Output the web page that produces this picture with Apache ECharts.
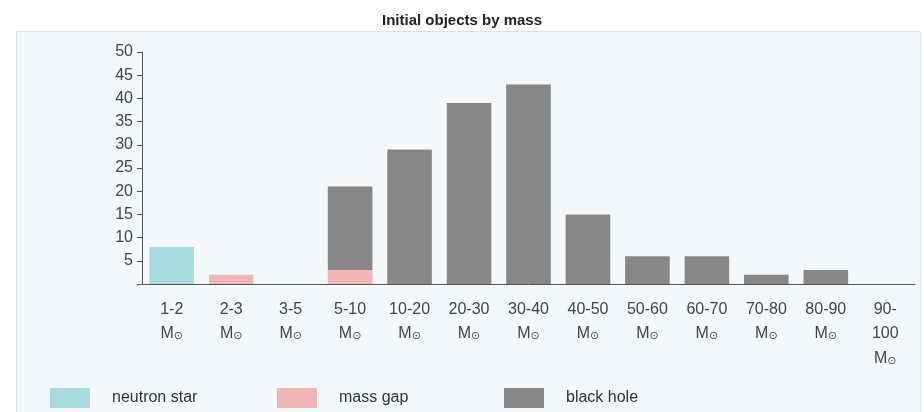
<!DOCTYPE html>
<html>
<head>
<meta charset="utf-8">
<script src="https://cdn.jsdelivr.net/npm/echarts@6/dist/echarts.min.js"></script>
<style>html,body{margin:0;padding:0;background:#fff;}#c{width:924px;height:412px;}</style>
</head>
<body>
<div id="c"></div>
<script>
const categories = ['1-2','2-3','3-5','5-10','10-20','20-30','30-40','40-50','50-60','60-70','70-80','80-90','90-100'];
const neutronStar = [8,0,0,0,0,0,0,0,0,0,0,0,0];
const massGap = [0,2,0,3,0,0,0,0,0,0,0,0,0];
const blackHole = [0,0,0,18,29,39,43,15,6,6,2,3,0];
const seriesNames = ['neutron star','mass gap','black hole'];
const colors = ['#a9dadd','#f2b5b5','#878787'];
const yTicks = {min:0, max:50, interval:5};

const chart = echarts.init(document.getElementById('c'), null, {renderer:'canvas'});
const font = 'Liberation Sans, Arial, sans-serif';
const mkSeries = (name, data, color) => ({
  name, type:'bar', stack:'total', data, barWidth:'75%',
  itemStyle:{color}, emphasis:{disabled:true}
});
const mkLegend = (name, left) => ({
  data:[name], left, top:388, orient:'horizontal', padding:0,
  itemWidth:40, itemHeight:20, icon:'rect',
  textStyle:{fontFamily:font, fontSize:16, color:'#333', padding:[0,0,0,17]}
});
chart.setOption({
  animation:false,
  backgroundColor:'#ffffff',
  title:{text:'Initial objects by mass', left:'center', top:8,
    textStyle:{fontFamily:font, fontSize:15, fontWeight:'bold', color:'#222'}},
  graphic:[{type:'rect', z:-10, silent:true,
    shape:{x:16.5, y:31.5, width:904, height:400},
    style:{fill:'#f4f8fb', stroke:'#dbe1e6', lineWidth:1}}],
  grid:{left:142, right:9, top:52, bottom:128, containLabel:false},
  legend:[mkLegend(seriesNames[0],50), mkLegend(seriesNames[1],277), mkLegend(seriesNames[2],504)],
  xAxis:{type:'category', data:categories,
    axisLine:{lineStyle:{color:'#555', width:1}},
    axisTick:{alignWithLabel:true, length:8, lineStyle:{color:'#555'}},
    axisLabel:{interval:0, margin:13, fontFamily:font, fontSize:16, color:'#444', lineHeight:24.5,
      formatter: v => (v.length>5 ? v.replace('-', '-\n') : v) + '\n{m|M}{s|⊙}',
      rich:{m:{fontFamily:font, fontSize:16, color:'#444', lineHeight:24.5},
            s:{fontFamily:'DejaVu Sans', fontSize:11, color:'#444', lineHeight:24.5, padding:[5,0,0,0]}}}
  },
  yAxis:{type:'value', min:yTicks.min, max:yTicks.max, interval:yTicks.interval,
    axisLine:{show:true, lineStyle:{color:'#555', width:1}},
    axisTick:{show:true, length:5, lineStyle:{color:'#555'}},
    splitLine:{show:false},
    axisLabel:{margin:9, fontFamily:font, fontSize:16, color:'#444',
      formatter: v => v===0 ? '' : String(v)}
  },
  series:[mkSeries(seriesNames[0], neutronStar, colors[0]),
          mkSeries(seriesNames[1], massGap, colors[1]),
          mkSeries(seriesNames[2], blackHole, colors[2])]
});
</script>
</body>
</html>
